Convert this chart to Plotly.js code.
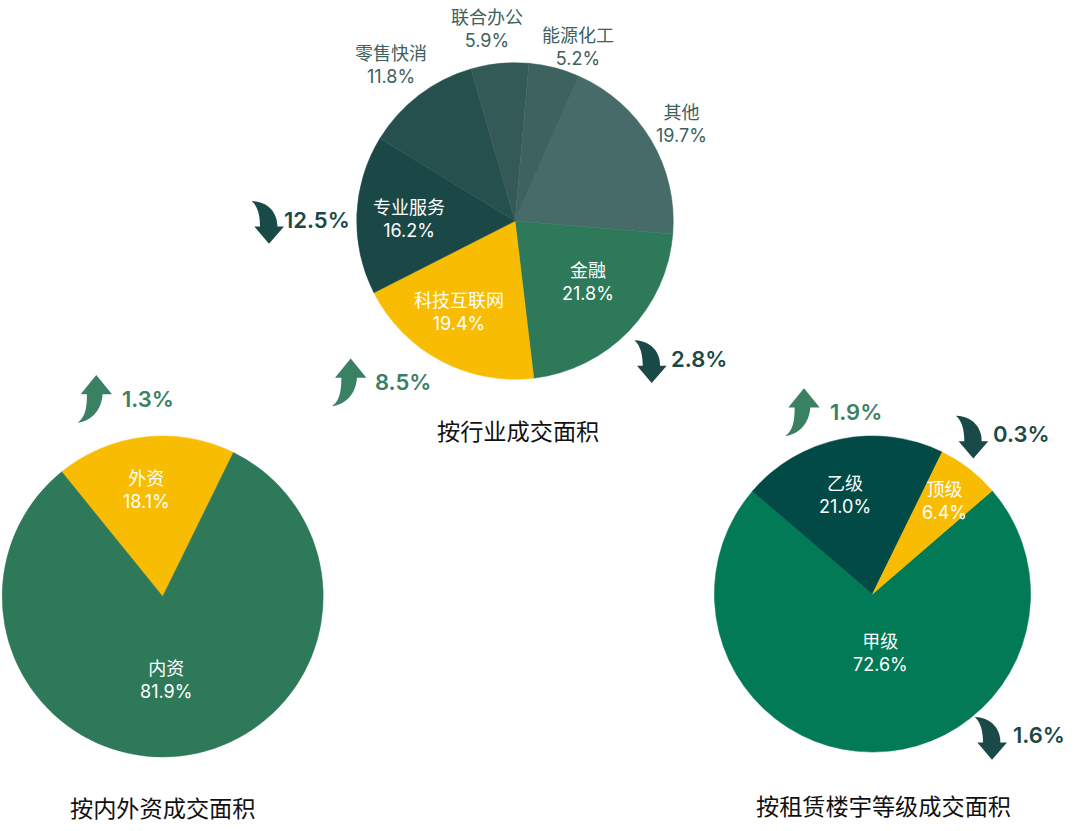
<!DOCTYPE html>
<html>
<head>
<meta charset="utf-8">
<script src="https://cdn.plot.ly/plotly-3.0.1.min.js"></script>
<style>html,body{margin:0;padding:0;background:#fff}#chart{width:1080px;height:831px}</style>
</head>
<body>
<div id="chart"></div>
<script>
// ---- data ----
const industryNames = ['其他','金融','科技互联网','专业服务','零售快消','联合办公','能源化工'];
const industryValues = [19.7,21.8,19.4,16.2,11.8,5.9,5.2];
const capitalNames = ['外资','内资'];
const capitalValues = [18.1,81.9];
const gradeNames = ['甲级','乙级','顶级'];
const gradeValues = [72.6,21.0,6.4];
const changeLabels = ['12.5%','2.8%','8.5%','1.3%','1.9%','0.3%','1.6%'];
const changeDirections = ['down','down','up','up','up','down','down'];
const chartTitles = ['按行业成交面积','按内外资成交面积','按租赁楼宇等级成交面积'];

// ---- styles and layout ----
const W = 1080, H = 831;
const FONT = 'Inter, "Noto Sans CJK SC", sans-serif';
const industryColors = ['#476b68','#2d795a','#f8bc02','#1a4846','#26504e','#335a57','#3d625f'];
const capitalColors = ['#f8bc02','#2d795a'];
const gradeColors = ['#027a56','#024a46','#f8bc02'];
const industryLabelPos = [[681,123.5],[588.3,281.5],[459.3,312],[409.3,218.5],[391,64.5],[486.7,28.5],[577.7,47]];
const industryLabelColors = ['#3d615e','#fff','#fff','#fff','#3d615e','#3d615e','#3d615e'];
const capitalLabelPos = [[146.7,489.5],[165.7,679.5]];
const gradeLabelPos = [[880.3,652.5],[845.3,495.5],[944.3,501]];
const changePos = [[317.5,220],[699,359],[402.7,382],[148,399.3],[856,412.3],[1021,434],[1039.3,735.3]];
const arrowTips = [[269,243.8],[651.7,383],[350.7,358.5],[96.3,375],[804,388.3],[973.3,458.5],[992,759.8]];
const titlePos = [[518.3,432.3],[163.3,809],[883.3,807.3]];
const UP = '#3a8063', DOWN = '#1a4a47';

const px = x => x / W;
const py = y => 1 - y / H;

function pieTrace(names, values, colors, cx, cy, r, rotation) {
  return {
    type: 'pie', labels: names, values: values, sort: false, direction: 'clockwise',
    rotation: rotation, textinfo: 'none', hoverinfo: 'skip', showlegend: false,
    marker: {colors: colors, line: {color: colors, width: 0.5}},
    domain: {x: [px(cx - r), px(cx + r)], y: [py(cy + r), py(cy - r)]}
  };
}

function note(text, pos, size, color, weight) {
  return {
    text: text, x: px(pos[0]), y: py(pos[1]), xref: 'paper', yref: 'paper',
    xanchor: 'center', yanchor: 'middle', showarrow: false, align: 'center',
    font: {family: FONT, size: size, color: color, weight: weight || 400}
  };
}

function sliceLabels(names, values, positions, colors) {
  return names.map((n, i) => note(n + '<br>' + values[i].toFixed(1) + '%', positions[i], 18,
    Array.isArray(colors) ? colors[i] : colors));
}

// arrow outlines, relative to the arrow tip
function arrowPath(dir, t) {
  const X = v => (t[0] + v) / W, Y = v => 1 - (t[1] + v) / H;
  const p = (a, b) => X(a) + ',' + Y(b);
  if (dir === 'up') {
    return 'M' + p(0,0) + ' L' + p(15.7,19.3) + ' L' + p(6.3,19.3) +
      ' C' + p(5,38) + ' ' + p(-8,47) + ' ' + p(-18.7,47.7) +
      ' C' + p(-10,42) + ' ' + p(-9.5,30) + ' ' + p(-9.3,19.3) +
      ' L' + p(-15.7,19.3) + ' Z';
  }
  return 'M' + p(0,0) + ' L' + p(-14.7,-17.3) + ' L' + p(-9,-17.3) +
    ' C' + p(-9,-28) + ' ' + p(-11,-37) + ' ' + p(-17.3,-42.7) +
    ' C' + p(4,-42) + ' ' + p(9,-25) + ' ' + p(8.3,-17.3) +
    ' L' + p(15,-17.3) + ' Z';
}

const traces = [
  pieTrace(industryNames, industryValues, industryColors, 515, 221, 158.3, 23.8),
  pieTrace(capitalNames, capitalValues, capitalColors, 162.7, 596.5, 160.5, -39),
  pieTrace(gradeNames, gradeValues, gradeColors, 872.5, 594, 158.1, 49.2)
];

const annotations = [
  ...sliceLabels(industryNames, industryValues, industryLabelPos, industryLabelColors),
  ...sliceLabels(capitalNames, capitalValues, capitalLabelPos, '#fff'),
  ...sliceLabels(gradeNames, gradeValues, gradeLabelPos, '#fff'),
  ...changeLabels.map((t, i) => note(t, changePos[i], 22, changeDirections[i] === 'up' ? UP : DOWN, 600)),
  ...chartTitles.map((t, i) => note(t, titlePos[i], 23.2, '#111'))
];

const shapes = changeDirections.map((d, i) => ({
  type: 'path', xref: 'paper', yref: 'paper', path: arrowPath(d, arrowTips[i]),
  fillcolor: d === 'up' ? UP : DOWN, line: {width: 0}
}));

Plotly.newPlot('chart', traces, {
  width: W, height: H, margin: {l: 0, r: 0, t: 0, b: 0},
  paper_bgcolor: '#fff', plot_bgcolor: '#fff', showlegend: false,
  font: {family: FONT}, annotations: annotations, shapes: shapes
}, {displayModeBar: false, staticPlot: true});
</script>
</body>
</html>
